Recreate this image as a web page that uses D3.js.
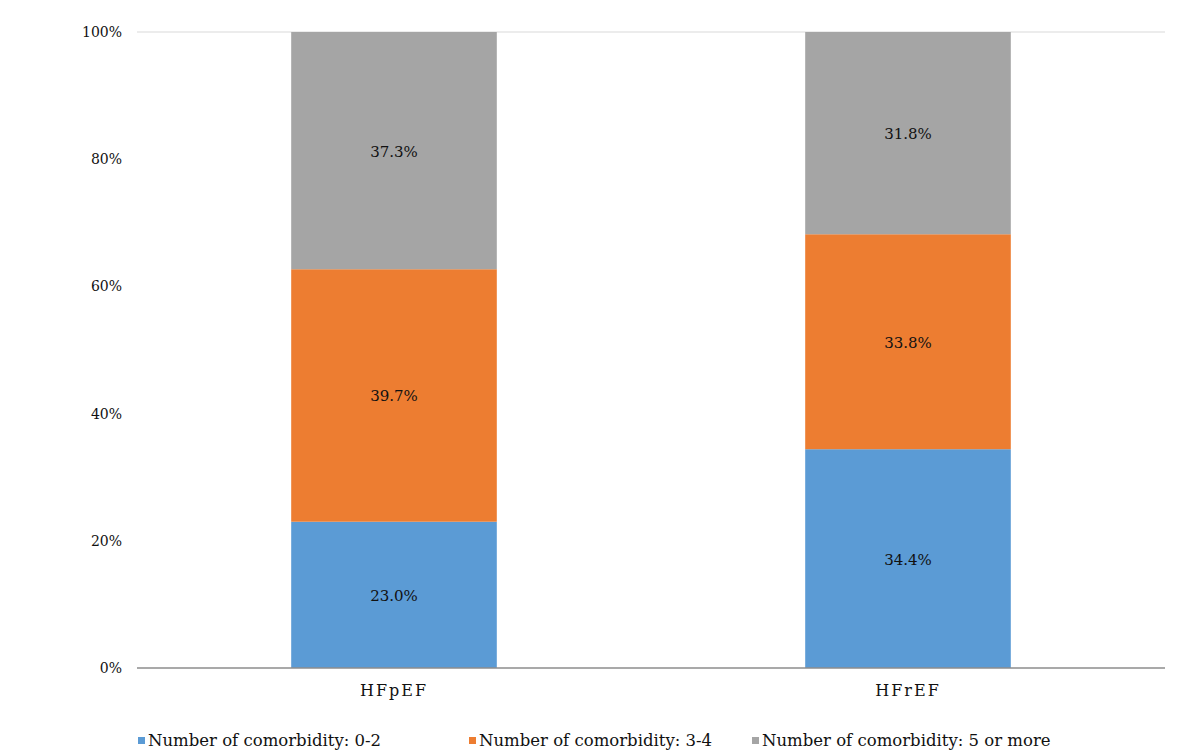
<!DOCTYPE html>
<html>
<head>
<meta charset="utf-8">
<script src="https://cdn.jsdelivr.net/npm/d3@7"></script>
<style>
  html, body { margin: 0; padding: 0; background: #fff; }
  svg { display: block; }
  text { font-family: "DejaVu Serif", "Liberation Serif", serif; fill: #111; }
</style>
</head>
<body>
<svg id="chart" width="1178" height="750"></svg>
<script>
// Heart failure groups and the share of patients per comorbidity count (%)
const groups = ["HFpEF", "HFrEF"];
const seriesNames = [
  "Number of comorbidity: 0-2",
  "Number of comorbidity: 3-4",
  "Number of comorbidity: 5 or more"
];
const comorb0to2 = [23.0, 34.4];
const comorb3to4 = [39.7, 33.8];
const comorb5plus = [37.3, 31.8];
const yTicks = [0, 20, 40, 60, 80, 100];
const colors = ["#5B9BD5", "#ED7D31", "#A5A5A5"];

const FONT = '"DejaVu Serif", "Liberation Serif", serif';
const svg = d3.select("#chart");
const margin = { left: 137, right: 13, top: 32, bottom: 82 };
const W = 1178, H = 750;

const x = d3.scaleBand()
  .domain(groups)
  .range([margin.left, W - margin.right])
  .paddingInner(0.6)
  .paddingOuter(0.3);

const y = d3.scaleLinear()
  .domain([0, 100])
  .range([H - margin.bottom, margin.top]);

// rows for the stack layout
const rows = groups.map((g, i) => ({
  group: g,
  [seriesNames[0]]: comorb0to2[i],
  [seriesNames[1]]: comorb3to4[i],
  [seriesNames[2]]: comorb5plus[i]
}));
const stacked = d3.stack().keys(seriesNames)(rows);

// top gridline
svg.append("line")
  .attr("x1", margin.left).attr("x2", W - margin.right)
  .attr("y1", y(100)).attr("y2", y(100))
  .attr("stroke", "#d9d9d9").attr("stroke-width", 1);

// y axis tick labels
const yAxis = d3.axisLeft(y)
  .tickValues(yTicks)
  .tickFormat(d => d + "%")
  .tickSize(0)
  .tickPadding(15);
const yg = svg.append("g")
  .attr("transform", `translate(${margin.left},0)`)
  .call(yAxis);
yg.select(".domain").remove();
yg.selectAll("text")
  .style("font-family", FONT)
  .style("font-size", "14px")
  .attr("fill", "#111");

// stacked bars
const layer = svg.append("g").selectAll("g")
  .data(stacked)
  .join("g")
  .attr("fill", (d, i) => colors[i]);

layer.selectAll("rect")
  .data(d => d)
  .join("rect")
  .attr("x", d => x(d.data.group))
  .attr("width", x.bandwidth())
  .attr("y", d => y(d[1]))
  .attr("height", d => y(d[0]) - y(d[1]));

// value labels at segment centres
stacked.forEach((s, si) => {
  svg.append("g").selectAll("text")
    .data(s)
    .join("text")
    .attr("x", d => x(d.data.group) + x.bandwidth() / 2)
    .attr("y", d => (y(d[0]) + y(d[1])) / 2 + 6)
    .attr("text-anchor", "middle")
    .style("font-size", "15px")
    .attr("fill", si === 0 ? "#10264a" : "#1a1a1a")
    .text(d => (d[1] - d[0]).toFixed(1) + "%");
});

// baseline
svg.append("line")
  .attr("x1", margin.left).attr("x2", W - margin.right)
  .attr("y1", y(0)).attr("y2", y(0))
  .attr("stroke", "#8c8c8c").attr("stroke-width", 1.5);

// x axis category labels
const xAxis = d3.axisBottom(x).tickSize(0).tickPadding(17);
const xg = svg.append("g")
  .attr("transform", `translate(0,${y(0)})`)
  .call(xAxis);
xg.select(".domain").remove();
xg.selectAll("text")
  .style("font-family", FONT)
  .style("font-size", "16px")
  .style("letter-spacing", "2px")
  .attr("fill", "#111");

// legend
const legendX = [138, 469, 752];
const legend = svg.append("g").selectAll("g")
  .data(seriesNames)
  .join("g")
  .attr("transform", (d, i) => `translate(${legendX[i]},746)`);
legend.append("rect")
  .attr("x", 0).attr("y", -9)
  .attr("width", 7).attr("height", 7)
  .attr("fill", (d, i) => colors[i]);
legend.append("text")
  .attr("x", 10).attr("y", 0)
  .style("font-size", "16.5px")
  .text(d => d);
</script>
</body>
</html>
